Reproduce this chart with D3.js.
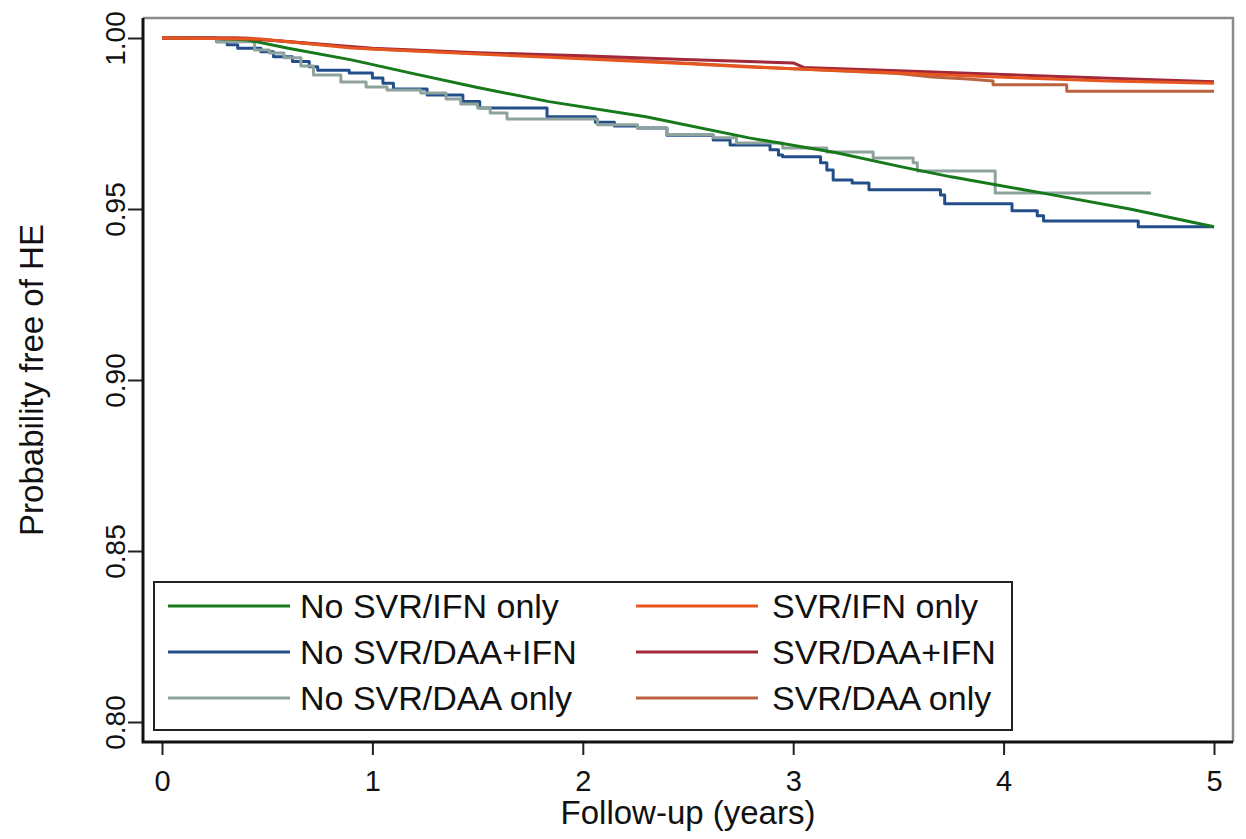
<!doctype html>
<html lang="en">
<head>
    <meta charset="UTF-8">
    <title>Probability free of HE</title>
    <style>
        body { margin: 0; background: #fff; }
        svg text { font-family: "Liberation Sans", Arial, sans-serif; fill: #111; }
    </style>
</head>
<body>
<svg id="km" width="1246" height="839"></svg>
<script src="https://d3js.org/d3.v7.min.js"></script>
<script>
    // Kaplan-Meier estimates: [years, probability free of HE]
    let noSvrIfnOnly = [[0, 1.0], [0.2, 1.0], [0.4, 0.9995], [0.6, 0.9970], [0.9, 0.9936], [1.2, 0.9895],
        [1.5, 0.9855], [1.84, 0.9814], [2.3, 0.9770], [2.79, 0.9708], [3.2, 0.9665], [3.51, 0.9624],
        [3.75, 0.9594], [4.2, 0.9545], [4.6, 0.9500], [5.0, 0.9448]];

    let noSvrDaaIfn = [[0, 1.0], [0.26, 0.9989], [0.31, 0.9980], [0.36, 0.9970], [0.47, 0.9960], [0.53, 0.9945],
        [0.62, 0.9931], [0.70, 0.9916], [0.74, 0.9906], [0.89, 0.9898], [1.00, 0.9883], [1.05, 0.9868],
        [1.10, 0.9851], [1.26, 0.9833], [1.43, 0.9814], [1.51, 0.9795], [1.83, 0.9770], [2.06, 0.9754],
        [2.15, 0.9743], [2.26, 0.9737], [2.40, 0.9716], [2.62, 0.9702], [2.70, 0.9687], [2.89, 0.9673],
        [2.93, 0.9658], [2.95, 0.9653], [3.13, 0.9635], [3.16, 0.9614], [3.19, 0.9585], [3.28, 0.9576],
        [3.36, 0.9556], [3.70, 0.9541], [3.72, 0.9515], [4.04, 0.9495], [4.16, 0.9480], [4.19, 0.9465],
        [4.64, 0.9448], [5.0, 0.9448]];

    let noSvrDaaOnly = [[0, 1.0], [0.26, 0.9989], [0.44, 0.9965], [0.51, 0.9956], [0.58, 0.9942], [0.66, 0.9918],
        [0.72, 0.9892], [0.85, 0.9871], [0.97, 0.9857], [1.07, 0.9848], [1.23, 0.9839], [1.35, 0.9822],
        [1.42, 0.9807], [1.50, 0.9795], [1.56, 0.9781], [1.64, 0.9763], [2.07, 0.9746], [2.26, 0.9737],
        [2.40, 0.9718], [2.62, 0.9708], [2.73, 0.9693], [2.95, 0.9678], [3.16, 0.9667], [3.38, 0.9649],
        [3.57, 0.9635], [3.59, 0.9611], [3.96, 0.9547], [4.70, 0.9547]];

    let svrIfnOnly = [[0, 1.0], [0.47, 0.9997], [0.9, 0.9971], [1.5, 0.9953], [1.84, 0.9944], [2.5, 0.9925],
        [2.79, 0.9915], [3.5, 0.9898], [4.0, 0.9885], [4.5, 0.9874], [5.0, 0.9868]];

    let svrDaaIfn = [[0, 1.0], [0.35, 1.0], [0.55, 0.9992], [1.0, 0.9970], [1.5, 0.9957], [2.0, 0.9948],
        [2.45, 0.9938], [3.0, 0.9927], [3.05, 0.9914], [3.5, 0.9904], [4.0, 0.9893],
        [4.5, 0.9882], [5.0, 0.9872]];

    let svrDaaOnly = [[0, 1.0], [0.4, 1.0], [1.0, 0.9968], [2.0, 0.9942], [3.0, 0.9910], [3.5, 0.9896],
        [3.66, 0.9886], [3.83, 0.9880], [3.95, 0.9874], [3.95, 0.9863], [4.3, 0.9863], [4.3, 0.9844],
        [5.0, 0.9844]];

    let groupNames = ["No SVR/IFN only", "No SVR/DAA+IFN", "No SVR/DAA only",
        "SVR/IFN only", "SVR/DAA+IFN", "SVR/DAA only"];
    let xTicks = [0, 1, 2, 3, 4, 5];
    let yTicks = [0.80, 0.85, 0.90, 0.95, 1.00];

    let groupData = [noSvrIfnOnly, noSvrDaaIfn, noSvrDaaOnly, svrIfnOnly, svrDaaIfn, svrDaaOnly];
    let groupColors = ["#16791a", "#234e8a", "#8ea39d", "#e8561f", "#a3283a", "#b9643e"];
    // the small groups are drawn as steps, the big ones look smooth
    let groupCurves = [d3.curveLinear, d3.curveStepAfter, d3.curveStepAfter,
        d3.curveLinear, d3.curveLinear, d3.curveLinear];
    let drawOrder = [1, 2, 0, 5, 4, 3];

    let frame = {left: 143, right: 1233, top: 18, bottom: 742};

    let x = d3.scaleLinear().domain([0, 5]).range([162, 1214]);
    let y = d3.scaleLinear().domain([0.80, 1.00]).range([722, 38]);

    let svg = d3.select("#km");

    // top and right borders are grey, the axes black
    svg.append("path")
        .attr("d", `M${frame.left},${frame.top}H${frame.right}V${frame.bottom}`)
        .attr("fill", "none")
        .attr("stroke", "#8a8a8a")
        .attr("stroke-width", 2.5);

    let line = d3.line()
        .x(function(d) { return x(d[0]); })
        .y(function(d) { return y(d[1]); });

    drawOrder.forEach(function(i) {
        svg.append("path")
            .datum(groupData[i])
            .attr("fill", "none")
            .attr("stroke", groupColors[i])
            .attr("stroke-width", 3)
            .attr("stroke-linejoin", "round")
            .attr("d", line.curve(groupCurves[i]));
    });

    // x axis
    let xAxis = svg.append("g")
        .attr("transform", `translate(0,${frame.bottom})`)
        .call(d3.axisBottom(x).tickValues(xTicks).tickSize(13).tickPadding(8).tickFormat(d3.format("d")));
    xAxis.select(".domain").remove();
    xAxis.selectAll(".tick line").attr("stroke", "#222").attr("stroke-width", 2);
    xAxis.selectAll(".tick text").attr("font-size", 29).attr("dy", "0.95em");

    // y axis, labels turned like Stata does
    let yAxis = svg.append("g")
        .attr("transform", `translate(${frame.left},0)`)
        .call(d3.axisLeft(y).tickValues(yTicks).tickSize(15).tickFormat(d3.format(".2f")));
    yAxis.select(".domain").remove();
    yAxis.selectAll(".tick line").attr("stroke", "#222").attr("stroke-width", 2);
    yAxis.selectAll(".tick text")
        .attr("x", null).attr("dy", null)
        .attr("font-size", 28)
        .attr("text-anchor", "middle")
        .attr("transform", "translate(-18,0) rotate(-90)");

    svg.append("path")
        .attr("d", `M${frame.left},${frame.top}V${frame.bottom}H${frame.right}`)
        .attr("fill", "none")
        .attr("stroke", "#111")
        .attr("stroke-width", 3);

    svg.append("text")
        .attr("x", (frame.left + frame.right) / 2)
        .attr("y", 824)
        .attr("text-anchor", "middle")
        .attr("font-size", 33)
        .text("Follow-up (years)");

    svg.append("text")
        .attr("transform", `translate(43,${(frame.top + frame.bottom) / 2}) rotate(-90)`)
        .attr("text-anchor", "middle")
        .attr("font-size", 33)
        .text("Probability free of HE");

    // legend
    let legend = svg.append("g");
    legend.append("rect")
        .attr("x", 154).attr("y", 582)
        .attr("width", 858).attr("height", 148)
        .attr("fill", "#fff")
        .attr("stroke", "#222")
        .attr("stroke-width", 2);

    let legendCols = [168, 636];
    let legendRows = [606, 652, 698];
    groupNames.forEach(function(name, i) {
        let lx = legendCols[Math.floor(i / 3)],
            ly = legendRows[i % 3];
        legend.append("line")
            .attr("x1", lx).attr("x2", lx + 122)
            .attr("y1", ly).attr("y2", ly)
            .attr("stroke", groupColors[i])
            .attr("stroke-width", 3);
        legend.append("text")
            .attr("x", lx + (i < 3 ? 132 : 136))
            .attr("y", ly + 12)
            .attr("font-size", 34)
            .text(name);
    });
</script>
</body>
</html>
